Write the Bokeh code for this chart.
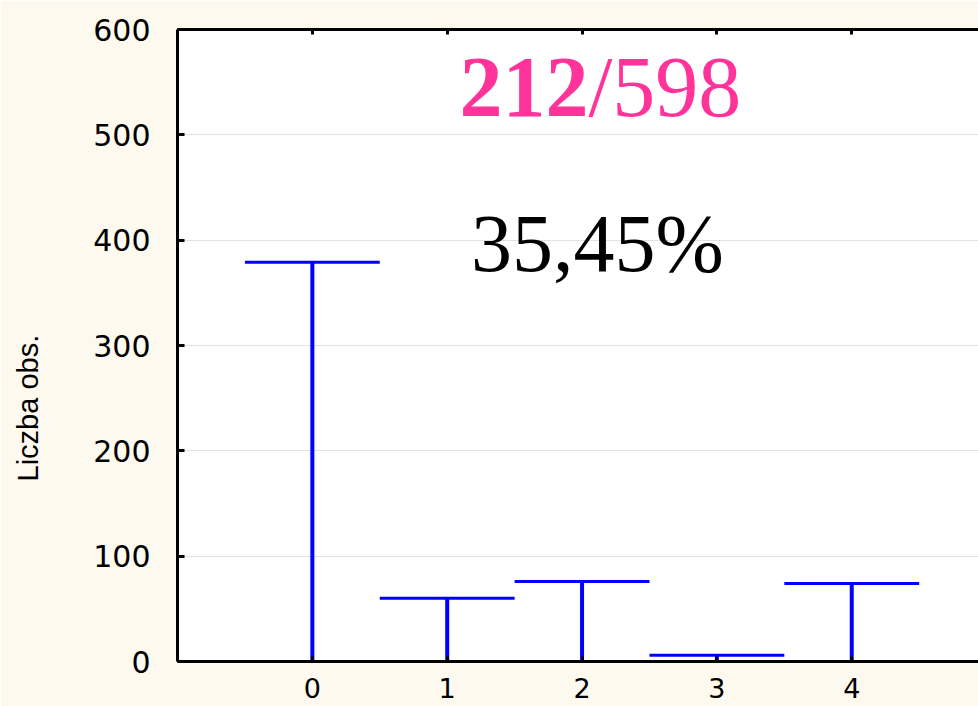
import numpy as np
from bokeh.plotting import figure
from bokeh.models import FixedTicker, LinearAxis, Label, Range1d, Title
from bokeh.embed import file_html
from bokeh.resources import INLINE

# ---- data ----
categories = [0, 1, 2, 3, 4]
counts = [379, 60, 76, 6, 74]
y_ticks = [0, 100, 200, 300, 400, 500, 600]
x_ticks = [0, 1, 2, 3, 4]
ratio_num = "212"
ratio_den = "/598"
percent_text = "35,45%"
y_label = "Liczba obs."

CREAM = "#fef9ef"
BLUE = "#0000ff"
PINK = "#ff3399"
TICK_FONT = "DejaVu Sans"

p = figure(width=978, height=706,
           x_range=Range1d(-1, 4.94), y_range=Range1d(0, 600),
           output_backend="svg", toolbar_location=None,
           min_border_left=177, min_border_right=0,
           min_border_top=29, min_border_bottom=45)
p.background_fill_color = "white"
p.border_fill_color = CREAM
p.outline_line_color = None

# grid
p.xgrid.visible = False
p.ygrid.ticker = FixedTicker(ticks=y_ticks)
p.ygrid.grid_line_color = "#e2e2e2"
p.ygrid.grid_line_width = 1

# axes
for ax in (p.xaxis[0], p.yaxis[0]):
    ax.axis_line_color = "black"
    ax.axis_line_width = 3
    ax.major_tick_line_color = "black"
    ax.major_tick_line_width = 3
    ax.major_tick_out = 0
    ax.minor_tick_line_color = None
    ax.major_label_text_font = TICK_FONT
    ax.major_label_text_color = "black"

p.yaxis.ticker = FixedTicker(ticks=y_ticks)
p.yaxis.major_tick_in = 7
p.yaxis.major_label_text_font_size = "30px"
p.yaxis.major_label_standoff = 27

p.xaxis.ticker = FixedTicker(ticks=x_ticks)
p.xaxis.major_tick_in = 5
p.xaxis.major_label_text_font_size = "27px"
p.xaxis.major_label_standoff = 16

top = LinearAxis(ticker=FixedTicker(ticks=x_ticks),
                 axis_line_color="black", axis_line_width=3,
                 major_tick_line_color="black", major_tick_line_width=3,
                 major_tick_in=5, major_tick_out=0,
                 minor_tick_line_color=None,
                 major_label_text_color=None,
                 major_label_text_font_size="0px", major_label_standoff=0)
p.add_layout(top, "above")

# y axis title, left of the axis and lower than centre, as in the reference
p.add_layout(Title(text=y_label, align="left", offset=180, standoff=17,
                   padding=dict(left=0, right=0, top=0, bottom=38),
                   text_font="Liberation Sans", text_font_style="normal",
                   text_font_size="29px", text_color="black"), "left")

# bars drawn as T shapes
x = np.array(categories, dtype=float)
y = np.array(counts, dtype=float)
half = 0.5
p.segment(x0=x, y0=np.zeros_like(y), x1=x, y1=y, line_color=BLUE, line_width=4)
p.segment(x0=x - half, y0=y, x1=x + half, y1=y, line_color=BLUE, line_width=3)

# annotations
p.add_layout(Label(x=2.047, y=545, text=ratio_num, text_align="right",
                   text_baseline="alphabetic", text_font="Liberation Serif",
                   text_font_style="bold", text_font_size="86px", text_color=PINK))
p.add_layout(Label(x=2.047, y=545, text=ratio_den, text_align="left",
                   text_baseline="alphabetic", text_font="Liberation Serif",
                   text_font_size="86px", text_color=PINK))
p.add_layout(Label(x=2.114, y=397, text=percent_text, text_align="center",
                   text_baseline="alphabetic", text_font="Liberation Serif",
                   text_font_size="82px", text_color="black"))

open("out.html", "w").write(file_html(p, INLINE))
